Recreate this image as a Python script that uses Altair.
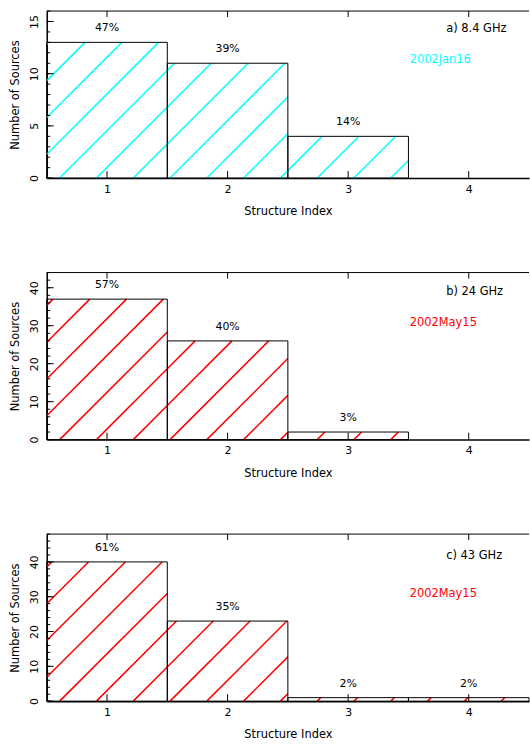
import math
import altair as alt
import pandas as pd

# ---- data ----
index = [1, 2, 3, 4]
counts_a = [13, 11, 4, 0]
counts_b = [37, 26, 2, 0]
counts_c = [40, 23, 1, 1]
pct_a = ["47%", "39%", "14%", ""]
pct_b = ["57%", "40%", "3%", ""]
pct_c = ["61%", "35%", "2%", "2%"]
panel_labels = ["a) 8.4 GHz", "b) 24 GHz", "c) 43 GHz"]
dates = ["2002Jan16", "2002May15", "2002May15"]
y_max = [16, 44, 48]
major_ticks = [[0, 5, 10, 15], [0, 10, 20, 30, 40], [0, 10, 20, 30, 40]]
minor_ticks = [list(range(0, 17, 1)), list(range(0, 45, 2)), list(range(0, 49, 2))]
x_ticks = [1, 2, 3, 4]

# ---- styles / layout ----
hatch_colors = ["#00FFFF", "#FF0000", "#FF0000"]
W = 485
H = 168
FONT = "DejaVu Sans"
HATCH_PERIOD = 37.0
hatch_phase = [13.0, 13.0, 13.0]
label_y = [18, 20, 22]
date_y = [49, 51, 60]


def hatch_points(counts, ymax, phase):
    """Diagonal hatch lines clipped to each bar (two points per segment)."""
    sx = W / 4.0
    sy = H / ymax
    rows = []
    seg = 0
    for i, c in zip(index, counts):
        if c <= 0:
            continue
        x0 = (i - 1) * sx
        x1 = i * sx
        h = c * sy
        k0 = math.floor((x0 - h - phase) / HATCH_PERIOD) - 1
        k1 = math.ceil((x1 - phase) / HATCH_PERIOD) + 1
        for k in range(k0, k1 + 1):
            cc = phase + k * HATCH_PERIOD
            xa = max(x0, cc)
            xb = min(x1, cc + h)
            if xb - xa > 0.5:
                rows.append(dict(seg=seg, hx=0.5 + xa / sx, hy=(xa - cc) / sy))
                rows.append(dict(seg=seg, hx=0.5 + xb / sx, hy=(xb - cc) / sy))
                seg += 1
    return pd.DataFrame(rows)


def panel(counts, pcts, ymax, majors, minors, color, label, date, ly, dy_, phase):
    xs = alt.Scale(domain=[0.5, 4.5], nice=False, zero=False)
    ys = alt.Scale(domain=[0, ymax], nice=False)
    x_axis = alt.Axis(values=x_ticks, ticks=False, tickSize=0, grid=False,
                      labelFont=FONT, labelFontSize=11, labelColor="black",
                      labelPadding=5, domainColor="black", domainWidth=1.5,
                      title="Structure Index", titleFont=FONT, titleFontSize=11.5,
                      titleFontWeight="normal", titleColor="black", titlePadding=12,
                      format="d")
    y_axis = alt.Axis(values=majors, ticks=False, tickSize=0, grid=False,
                      labelFont=FONT, labelFontSize=11, labelColor="black",
                      labelAngle=270, labelAlign="center", labelBaseline="bottom",
                      labelPadding=7, domainColor="black", domainWidth=1.5,
                      title="Number of Sources", titleFont=FONT, titleFontSize=11.5,
                      titleFontWeight="normal", titleColor="black", titlePadding=8)

    def X(f):
        return alt.X(f, scale=xs, axis=x_axis)

    def Y(f):
        return alt.Y(f, scale=ys, axis=y_axis)

    bars = pd.DataFrame({
        "idx": index,
        "start": [i - 0.5 for i in index],
        "end": [i + 0.5 for i in index],
        "count": counts,
        "base": [0] * 4,
        "pct": pcts,
    })
    bars_nz = bars[bars["count"] > 0]

    hatch = alt.Chart(hatch_points(counts, ymax, phase)).mark_line(
        color=color, strokeWidth=1.5
    ).encode(x=X("hx:Q"), y=Y("hy:Q"), detail="seg:N")

    outline = alt.Chart(bars_nz).mark_rect(
        fillOpacity=0, stroke="black", strokeWidth=1
    ).encode(x=X("start:Q"), x2="end:Q", y=Y("count:Q"), y2="base:Q")

    text = alt.Chart(bars_nz).mark_text(
        font=FONT, fontSize=11, color="black", dy=-14, baseline="middle"
    ).encode(x=X("idx:Q"), y=Y("count:Q"), text="pct:N")

    ymaj = pd.DataFrame({"t": majors})
    ymin = pd.DataFrame({"t": minors})
    xt = pd.DataFrame({"t": x_ticks})
    one = pd.DataFrame({"t": [0]})

    ytick_major = alt.Chart(ymaj).mark_rule(color="black", strokeWidth=1).encode(
        y=Y("t:Q"), x=alt.value(0), x2=alt.value(7))
    ytick_minor = alt.Chart(ymin).mark_rule(color="black", strokeWidth=1).encode(
        y=Y("t:Q"), x=alt.value(0), x2=alt.value(3.5))
    xtick_bot = alt.Chart(xt).mark_rule(color="black", strokeWidth=1).encode(
        x=X("t:Q"), y=alt.value(H), y2=alt.value(H - 7))
    xtick_top = alt.Chart(xt).mark_rule(color="black", strokeWidth=1).encode(
        x=X("t:Q"), y=alt.value(0), y2=alt.value(6))
    top_frame = alt.Chart(one).mark_rule(color="black", strokeWidth=1).encode(
        x=alt.value(0), x2=alt.value(W), y=alt.value(0))

    lab = alt.Chart(one).mark_text(
        font=FONT, fontSize=11.5, color="black", align="left", baseline="middle",
        text=label
    ).encode(x=alt.value(401.7), y=alt.value(ly))
    dat = alt.Chart(one).mark_text(
        font=FONT, fontSize=11.5, color=color, align="left", baseline="middle",
        text=date
    ).encode(x=alt.value(365), y=alt.value(dy_))

    return alt.layer(
        hatch, outline, text, ytick_major, ytick_minor,
        xtick_bot, xtick_top, top_frame, lab, dat
    ).properties(width=W, height=H)


panels = []
for k, (cnts, pcts) in enumerate([(counts_a, pct_a), (counts_b, pct_b), (counts_c, pct_c)]):
    panels.append(panel(cnts, pcts, y_max[k], major_ticks[k], minor_ticks[k],
                        hatch_colors[k], panel_labels[k], dates[k],
                        label_y[k], date_y[k], hatch_phase[k]))

chart = alt.vconcat(*panels, spacing=54).resolve_scale(
    x="independent", y="independent"
).properties(
    padding={"left": 10, "top": 8, "right": 0, "bottom": 0},
    background="white",
).configure_view(stroke=None)

chart.save("out.html", embed_options={"renderer": "svg", "actions": False})
